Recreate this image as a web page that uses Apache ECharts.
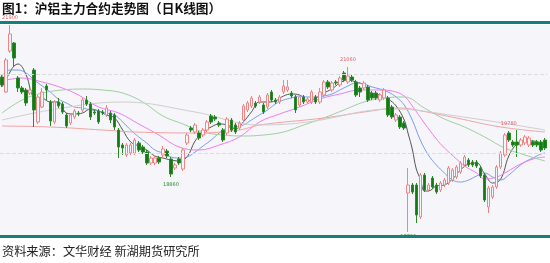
<!DOCTYPE html>
<html><head><meta charset="utf-8">
<script src="https://cdn.jsdelivr.net/npm/echarts@6/dist/echarts.min.js"></script>
<style>html,body{margin:0;padding:0;background:#fff}#c{width:550px;height:263px}</style>
</head><body><div id="c"></div>
<script>
const titleText = '图1：沪铝主力合约走势图（日K线图）';
const sourceText = '资料来源：文华财经 新湖期货研究所';
const opens = [20860,20560,21380,21540,20840,20640,20600,20540,21000,19960,20260,20680,20360,19960,20360,20320,20100,19940,20060,20140,20200,20400,20320,20160,20180,20160,20100,20140,20100,19800,19500,19300,19340,19340,19540,19460,19360,19140,19140,19240,19300,19380,19220,19040,19220,19020,19540,19840,19760,19740,19700,19800,20080,20060,19940,19800,19740,20000,19900,19840,20000,20200,20280,20340,20360,20300,20260,20560,20400,20360,20560,20600,20540,20460,20300,20460,20360,20360,20460,20360,20500,20760,20600,20760,20700,20940,20760,20860,20760,20640,20640,20660,20540,20540,20400,20440,20440,20260,20000,20060,19940,18540,18700,18700,18060,18900,18600,18840,18700,18600,18700,18740,18800,18860,18960,19100,19200,19160,19160,19040,18900,18260,18460,18660,19060,19300,19740,19560,19560,19500,19540,19500,19560,19560,19560,19600];
const closes = [20700,21200,21720,21240,20640,20560,20340,20600,20200,20460,20560,20600,19980,20360,20280,20160,19880,20100,20180,20120,20400,20320,20060,20140,19960,20140,20240,20000,19860,19460,19440,19500,19500,19600,19400,19360,19140,19240,19240,19160,19420,19280,18920,19100,19140,19400,19700,19800,19900,19640,19800,19960,19960,20020,19900,19600,20020,19800,19760,19940,20280,20340,20440,20280,20460,20160,20500,20400,20360,20460,20680,20660,20480,20200,20460,20360,20420,20560,20360,20560,20760,20660,20740,20740,20840,20800,20880,20800,20500,20560,20740,20400,20440,20440,20500,20600,20100,20060,20100,19860,19840,18700,18560,18100,18900,18600,18700,18660,18560,18740,18800,19040,19000,19060,19140,19260,19100,19100,19080,18880,18400,18640,18660,19060,19340,19700,19600,19500,19500,19600,19660,19640,19500,19500,19400,19440];
const lows = [20660,20540,21340,21080,20560,20520,20280,20500,19860,19920,20240,20400,19880,19920,20240,20120,19840,19900,20020,20080,20160,20280,20000,20100,19920,20100,20060,19940,19800,19240,19300,19260,19300,19300,19360,19320,19100,19100,19100,19120,19260,19240,18860,19000,19100,18980,19500,19760,19720,19600,19660,19760,19920,19980,19860,19560,19700,19760,19720,19800,19960,20160,20240,20240,20320,20120,20220,20360,20320,20320,20520,20560,20440,20140,20260,20320,20320,20320,20320,20320,20460,20620,20560,20700,20660,20760,20720,20760,20460,20460,20600,20360,20400,20400,20360,20400,20060,20020,19960,19820,19800,17760,18520,17940,18020,18560,18560,18620,18520,18560,18660,18700,18760,18820,18920,19060,19060,19060,19040,18840,18360,18140,18420,18620,19020,19260,19560,19460,19260,19460,19500,19460,19460,19460,19360,19400];
const highs = [20900,21240,21900,21560,20880,20680,20640,20640,21040,20500,20640,20720,20400,20400,20440,20360,20140,20140,20220,20180,20440,20480,20360,20200,20220,20200,20300,20180,20140,19840,19540,19540,19540,19640,19580,19500,19400,19280,19300,19280,19480,19420,19260,19140,19260,19440,19740,19880,19940,19780,19840,20000,20120,20100,19980,19840,20060,20040,19940,19980,20320,20380,20480,20380,20500,20340,20540,20600,20440,20500,20800,20800,20580,20500,20500,20500,20460,20600,20500,20640,20800,20800,20780,20800,20880,20980,21060,20900,20800,20680,20780,20700,20580,20580,20540,20640,20480,20300,20140,20100,19980,19040,18740,18740,18940,18940,18740,18880,18740,18780,18840,19080,19040,19100,19180,19300,19240,19200,19200,19080,18940,18680,18700,19100,19380,19740,19780,19600,19800,19640,19700,19680,19600,19600,19600,19640];
// moving-average lines: [day index, value]
const ma5 = [[0,20660],[2,20960],[3,21080],[4,21120],[6,20900],[8,20460],[10,20440],[12,20360],[14,20360],[16,20140],[18,20120],[20,20140],[22,20220],[24,20180],[26,20100],[28,20040],[30,19800],[32,19560],[34,19480],[36,19400],[38,19280],[40,19240],[42,19200],[44,19180],[46,19260],[48,19580],[50,19760],[52,19860],[54,19920],[56,19900],[58,19820],[60,19960],[62,20160],[64,20360],[66,20360],[68,20380],[70,20480],[72,20520],[74,20500],[76,20380],[78,20440],[80,20540],[82,20620],[84,20740],[86,20800],[88,20760],[90,20700],[92,20520],[94,20500],[96,20420],[98,20280],[100,20000],[101,19720],[102,19420],[103,19020],[104,18820],[105,18580],[106,18580],[108,18680],[110,18700],[112,18820],[114,19000],[116,19120],[118,19140],[120,18920],[122,18740],[124,18820],[126,19280],[128,19520],[130,19580],[132,19580],[134,19540],[135,19520]];
const ma10 = [[0,20880],[2,21000],[4,21000],[6,20940],[8,20800],[10,20680],[12,20560],[14,20420],[16,20340],[18,20260],[20,20240],[22,20200],[24,20180],[26,20140],[28,20100],[30,19960],[32,19800],[34,19660],[36,19540],[38,19400],[40,19340],[42,19260],[44,19240],[46,19260],[48,19360],[50,19480],[52,19600],[54,19740],[56,19840],[58,19860],[60,19900],[62,20000],[64,20100],[66,20200],[68,20320],[70,20400],[72,20440],[74,20480],[76,20460],[78,20460],[80,20480],[82,20520],[84,20600],[86,20680],[88,20740],[90,20720],[92,20660],[94,20620],[96,20560],[98,20460],[100,20300],[102,20000],[104,19600],[106,19300],[108,19100],[110,18940],[112,18800],[114,18760],[116,18800],[118,18880],[120,18940],[122,18860],[124,18800],[126,18900],[128,19040],[130,19160],[132,19240],[134,19320],[135,19340]];
const ma20 = [[0,20780],[5,20840],[10,20760],[15,20640],[19,20500],[24,20260],[29,20140],[34,19920],[39,19700],[44,19460],[49,19400],[54,19500],[59,19660],[64,19960],[69,20120],[74,20260],[79,20420],[84,20520],[89,20600],[94,20600],[97,20580],[100,20480],[102,20280],[105,19940],[108,19620],[110,19440],[113,19220],[115,19080],[118,18940],[120,18820],[123,18860],[125,18940],[128,19080],[130,19160],[133,19240],[135,19260]];
const ma40 = [[0,20140],[5,20400],[10,20540],[15,20600],[20,20620],[25,20600],[30,20540],[35,20360],[40,20080],[45,19920],[50,19760],[55,19700],[60,19680],[65,19700],[70,19760],[75,19900],[80,20040],[85,20200],[90,20360],[95,20440],[100,20460],[105,20240],[110,20020],[115,19860],[120,19660],[125,19440],[130,19300],[135,19180]];
const ma60 = [[0,19880],[12,19860],[25,19800],[33,19760],[48,19740],[59,19800],[64,19900],[80,20040],[90,20160],[99,20240],[103,20200],[113,20040],[124,19860],[135,19760]];
const ma120 = [[0,20000],[15,20240],[30,20360],[48,20160],[64,19900],[76,19960],[97,20220],[113,20080],[135,19800]];
const guideLevels = [20920, 19340];
const days = opens.map((_, i) => 'D' + (i + 1));

const chart = echarts.init(document.getElementById('c'), null, {renderer: 'canvas'});
const kdata = opens.map((o, i) => [o, closes[i], lows[i], highs[i]]);
function ma(name, data, color) {
  return {type: 'line', name, data, symbol: 'none', smooth: 0.4, silent: true,
    lineStyle: {width: 1, color}, z: 3};
}
chart.setOption({
  animation: false,
  backgroundColor: '#ffffff',
  graphic: [
    {type: 'rect', shape: {x: 0, y: 25, width: 550, height: 210}, style: {fill: '#f5f5fa'}, z: -10, silent: true},
    {type: 'rect', shape: {x: 0, y: 21, width: 550, height: 3}, style: {fill: '#157f7a'}, z: 10},
    {type: 'rect', shape: {x: 0, y: 235, width: 550, height: 3}, style: {fill: '#157f7a'}, z: 10},
    {type: 'text', left: 2, top: 2, style: {text: titleText, font: 'bold 12.7px "Noto Sans CJK SC"', fill: '#111'}},
    {type: 'text', left: 2, top: 245, style: {text: sourceText, font: '12.2px "Noto Sans CJK SC"', fill: '#222'}}
  ],
  grid: {left: 0, right: 3, top: 25, bottom: 28},
  xAxis: {type: 'category', data: days, boundaryGap: true, show: false},
  yAxis: {type: 'value', min: 17700, max: 21900, show: false, splitLine: {show: false}},
  series: [
    {type: 'candlestick', data: kdata, barWidth: 3, z: 4,
      itemStyle: {color: '#f5f5fa', color0: '#137a13', borderColor: '#ef8585', borderColor0: '#2a8a2a', borderWidth: 1},
      markLine: {silent: true, symbol: 'none', label: {show: false},
        lineStyle: {type: 'dashed', color: '#dcdcdc', width: 1},
        data: guideLevels.map(v => ({yAxis: v}))},
      markPoint: {symbol: 'circle', symbolSize: 0, silent: true,
        label: {show: true, fontSize: 5, fontFamily: 'DejaVu Sans'},
        data: [
          {coord: [2, highs[2]], value: highs[2], label: {position: 'top', color: '#e06060'}},
          {coord: [86, highs[86]], value: highs[86], label: {position: 'top', color: '#e06060'}},
          {coord: [42, lows[42]], value: lows[42], label: {position: 'bottom', color: '#2a8a2a'}},
          {coord: [101, lows[101]], value: lows[101], label: {position: 'bottom', offset: [0, -3], color: '#2a8a2a'}},
          {coord: [126, highs[126]], value: highs[126], label: {position: 'top', color: '#e06060'}}
        ]}
    },
    ma('MA5', ma5, '#555555'),
    ma('MA10', ma10, '#7d9de8'),
    ma('MA20', ma20, '#f27df2'),
    ma('MA40', ma40, '#9fd09f'),
    ma('MA60', ma60, '#f3a3a3'),
    ma('MA120', ma120, '#cfcfcf')
  ]
});
</script></body></html>
